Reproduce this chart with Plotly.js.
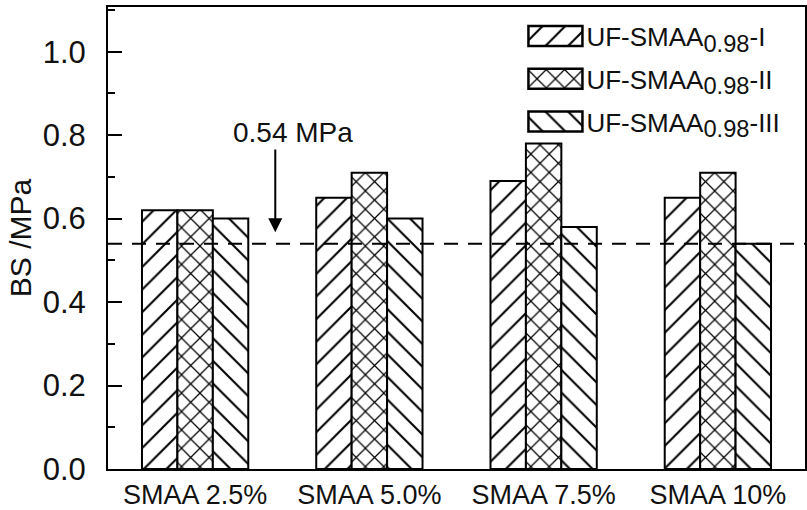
<!DOCTYPE html>
<html><head><meta charset="utf-8">
<script src="https://cdn.plot.ly/plotly-3.0.1.min.js"></script>
<style>html,body{margin:0;padding:0;background:#fff}</style>
</head><body>
<div id="chart" style="width:807px;height:510px"></div>
<script>
const categories = ['SMAA 2.5%', 'SMAA 5.0%', 'SMAA 7.5%', 'SMAA 10%'];
const seriesNames = [
  'UF-SMAA<sub><span style="font-size:130%">0.98</span></sub>-I',
  'UF-SMAA<sub><span style="font-size:130%">0.98</span></sub>-II',
  'UF-SMAA<sub><span style="font-size:130%">0.98</span></sub>-III'
];
const valuesI = [0.62, 0.65, 0.69, 0.65];
const valuesII = [0.62, 0.71, 0.78, 0.71];
const valuesIII = [0.60, 0.60, 0.58, 0.54];
const threshold = 0.54;
const thresholdLabel = '0.54 MPa';
const yTitle = 'BS /MPa';

const FONT = 'Arial, "Liberation Sans", sans-serif';
const seriesValues = [valuesI, valuesII, valuesIII];
const shapes = ['/', 'x', '\\'];
const psize = [16, 13, 16];
const psolid = [0.13, 0.18, 0.13];

const traces = seriesValues.map((vals, i) => ({
  type: 'bar',
  x: categories,
  y: vals,
  name: seriesNames[i],
  legendgroup: 'g' + i,
  marker: {
    color: 'white',
    line: {color: 'black', width: 2},
    pattern: {shape: shapes[i], fgcolor: 'black', bgcolor: 'white', size: psize[i], solidity: psolid[i], fillmode: 'replace'}
  }
}));

const layout = {
  width: 807, height: 510,
  margin: {l: 108, r: 2, t: 7, b: 41},
  paper_bgcolor: 'white', plot_bgcolor: 'white',
  font: {family: FONT, color: '#111'},
  barmode: 'group', bargap: 0.39, bargroupgap: 0,
  showlegend: true,
  legend: {x: 0.586, y: 0.988, xanchor: 'left', yanchor: 'top', font: {size: 26, family: FONT, color: '#111'},
           bgcolor: 'rgba(0,0,0,0)', itemwidth: 60, tracegroupgap: 6, traceorder: 'grouped'},
  xaxis: {
    type: 'category', range: [-0.5, 3.5], showline: true, mirror: true, linecolor: 'black', linewidth: 2,
    ticks: '', showgrid: false, zeroline: false, tickfont: {size: 27, family: FONT, color: '#111'},
    ticklabelstandoff: 1
  },
  yaxis: {
    range: [0, 1.107], showline: true, mirror: true, linecolor: 'black', linewidth: 2,
    ticks: 'inside', ticklen: 14, tickwidth: 2, tickcolor: 'black', dtick: 0.2, tick0: 0, tickformat: '.1f',
    minor: {ticks: 'inside', ticklen: 7, tickwidth: 2, tickcolor: 'black', dtick: 0.1, showgrid: false},
    showgrid: false, zeroline: false, tickfont: {size: 31, family: FONT, color: '#111'},
    ticklabelstandoff: 14,
    title: {text: yTitle, font: {size: 30, family: FONT, color: '#111'}, standoff: 2}
  },
  shapes: [{type: 'line', xref: 'paper', x0: 0, x1: 1, yref: 'y', y0: threshold, y1: threshold,
            line: {color: 'black', width: 2, dash: '14px,10px'}}],
  annotations: [
    {xref: 'x', yref: 'y', x: 0.563, y: 0.807, text: thresholdLabel, showarrow: false,
     font: {size: 28, family: FONT, color: '#111'}},
    {xref: 'x', yref: 'y', x: 0.46, y: 0.567, axref: 'x', ayref: 'y', ax: 0.46, ay: 0.769, text: '',
     showarrow: true, arrowhead: 2, arrowsize: 1.4, arrowwidth: 2, arrowcolor: 'black'}
  ]
};

Plotly.newPlot('chart', traces, layout, {staticPlot: true}).then(gd => {
  const barTraces = gd.querySelectorAll('.barlayer .trace');
  const legTraces = gd.querySelectorAll('.legend .traces');
  legTraces.forEach((lt, i) => {
    const txt = lt.querySelector('text.legendtext');
    const tx = parseFloat(txt.getAttribute('x'));
    const p = lt.querySelector('.legendpoints path');
    const bp = barTraces[i] ? barTraces[i].querySelector('path') : null;
    if (p) {
      p.setAttribute('d', 'M27,10H-27V-10H27Z');
      p.setAttribute('transform', 'translate(' + (tx - 31) + ',0)');
      if (bp) p.style.fill = bp.style.fill;
      p.style.stroke = 'black';
      p.style.strokeWidth = '2.5px';
    }
  });
});
</script>
</body></html>
